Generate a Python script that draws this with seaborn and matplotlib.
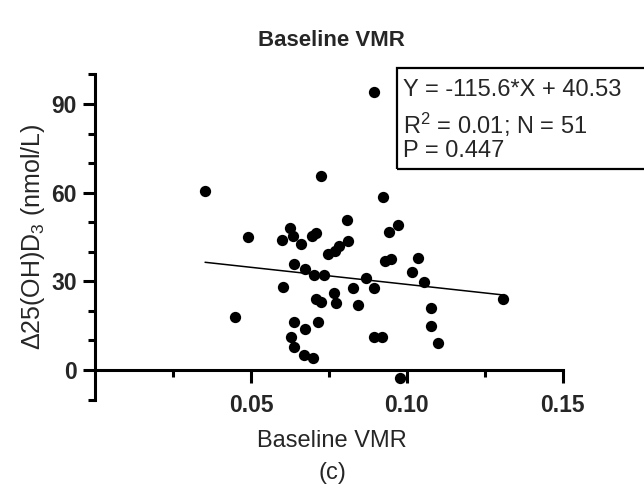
import numpy as np
import pandas as pd
import matplotlib
matplotlib.use("Agg")
import matplotlib.pyplot as plt
from matplotlib.patches import Rectangle
import seaborn as sns

# ---- data ----
baseline_vmr = [0.0353, 0.0725, 0.0923, 0.0808, 0.0971, 0.0943, 0.0492, 0.0625,
                0.0599, 0.0661, 0.0636, 0.0709, 0.0696, 0.0811, 0.0781, 0.0747,
                0.0771, 0.0639, 0.0673, 0.0702, 0.0736, 0.0870, 0.0896, 0.0602,
                0.0768, 0.0773, 0.0827, 0.0844, 0.0709, 0.0725, 0.0639, 0.0673,
                0.0714, 0.0629, 0.0639, 0.0671, 0.0699, 0.0450, 0.0896, 0.0920,
                0.0929, 0.0950, 0.1036, 0.1018, 0.1056, 0.1077, 0.1077, 0.1101,
                0.1308, 0.0979, 0.0896]
delta_25ohd3 = [60.6, 65.7, 58.6, 50.7, 48.9, 46.8, 44.9, 47.9,
                44.0, 42.8, 45.3, 46.5, 45.3, 43.8, 42.1, 39.1,
                40.2, 35.8, 34.2, 32.1, 32.0, 31.0, 27.9, 28.1,
                25.9, 22.7, 27.7, 21.9, 24.0, 23.0, 16.1, 13.9,
                16.1, 11.2, 7.9, 5.1, 4.1, 17.8, 11.1, 11.1,
                36.9, 37.5, 37.8, 33.1, 29.9, 20.9, 15.0, 9.0,
                23.9, -2.8, 94.1]
slope = -115.6
intercept = 40.53
stats_lines = ["Y = -115.6*X + 40.53", "R$^2$ = 0.01; N = 51", "P = 0.447"]
x_major = [0.05, 0.10, 0.15]
x_major_labels = ["0.05", "0.10", "0.15"]
x_minor = [0.025, 0.075, 0.125]
y_major = [0, 30, 60, 90]
y_minor = [-10, 10, 20, 40, 50, 70, 80, 100]

df = pd.DataFrame({"vmr": baseline_vmr, "d25": delta_25ohd3})
xfit = np.array([min(baseline_vmr), max(baseline_vmr)])
fit = pd.DataFrame({"vmr": xfit, "d25": slope * xfit + intercept})

sns.set_style("ticks")
plt.rcParams["font.family"] = ["Liberation Sans", "DejaVu Sans"]
plt.rcParams["mathtext.fontset"] = "custom"
plt.rcParams["mathtext.rm"] = "Liberation Sans"
plt.rcParams["mathtext.it"] = "Liberation Sans:italic"
plt.rcParams["mathtext.bf"] = "Liberation Sans:bold"

W, H = 644, 492
fig = plt.figure(figsize=(W / 100, H / 100), dpi=100)
x0, x1 = 95, 562.7
ytop, ybot = 74.4, 399.6
ax = fig.add_axes([x0 / W, 1 - ybot / H, (x1 - x0) / W, (ybot - ytop) / H])

sns.scatterplot(data=df, x="vmr", y="d25", ax=ax, color="black", s=66,
                edgecolor="black", linewidth=0, clip_on=False, zorder=3)
sns.lineplot(data=fit, x="vmr", y="d25", ax=ax, color="black", linewidth=1.1,
             zorder=2)

ax.set_xlim(0, 0.15)
ax.set_ylim(-10, 100)
for s in ["top", "right"]:
    ax.spines[s].set_visible(False)
ax.spines["bottom"].set_position(("data", 0))
ax.spines["bottom"].set_bounds(0, 0.15)
ax.spines["left"].set_bounds(-10, 100)
for s in ["bottom", "left"]:
    ax.spines[s].set_linewidth(2.2)
    ax.spines[s].set_color("black")

ax.set_xticks(x_major)
ax.set_xticklabels(x_major_labels)
ax.set_xticks(x_minor, minor=True)
ax.set_yticks(y_major)
ax.set_yticks(y_minor, minor=True)
ax.tick_params(axis="both", which="major", direction="out", width=2.2,
               length=9, color="black", labelsize=16.5)
ax.tick_params(axis="both", which="minor", direction="out", width=2.2,
               length=5, color="black")
ax.tick_params(axis="x", which="major", pad=8)
ax.tick_params(axis="y", which="major", pad=4)
for lab in ax.get_xticklabels() + ax.get_yticklabels():
    lab.set_fontweight("bold")

ax.set_xlabel("Baseline VMR", fontsize=17, va="center")
ax.xaxis.set_label_coords((331.7 - x0) / (x1 - x0), (ybot - 441) / (ybot - ytop))
ax.set_ylabel("Δ25(OH)D$_3$ (nmol/L)", fontsize=18, va="center")
ax.yaxis.set_label_coords((33 - x0) / (x1 - x0), (ybot - 237) / (ybot - ytop))

fig.text(331 / W, 1 - 40 / H, "Baseline VMR", ha="center", va="center",
         fontsize=16, fontweight="bold")
fig.text(332 / W, 1 - 473 / H, "(c)", ha="center", va="center", fontsize=17)

# stats box
bx0, by0, by1 = 396.7, 68.3, 169.3
fig.patches.append(Rectangle((bx0 / W, 1 - by1 / H), (W + 10 - bx0) / W,
                             (by1 - by0) / H, transform=fig.transFigure,
                             fill=False, edgecolor="black", linewidth=1.6))
for txt, yc in zip(stats_lines, [90.0, 125.0, 151.0]):
    fig.text(402.7 / W, 1 - yc / H, txt, ha="left", va="center", fontsize=17)

ax.set_facecolor("white")
fig.savefig("out.png", dpi=100, facecolor="white")
